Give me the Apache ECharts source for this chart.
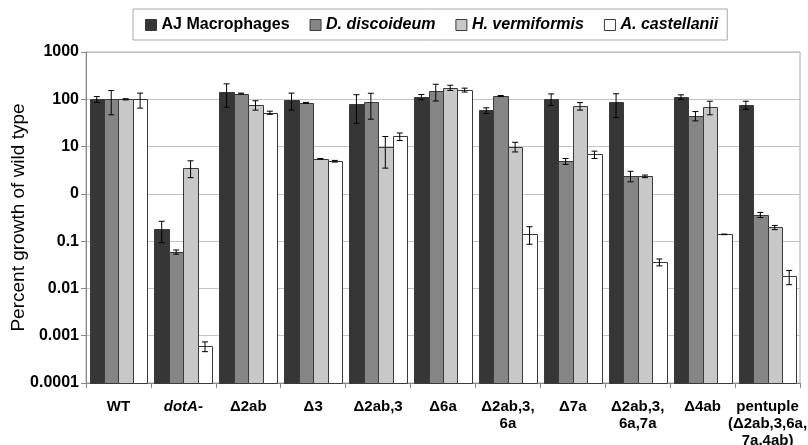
<!DOCTYPE html>
<html>
<head>
<meta charset="utf-8">
<script src="https://cdn.jsdelivr.net/npm/echarts@6/dist/echarts.min.js"></script>
<style>html,body{margin:0;padding:0;background:#fff}#c{width:808px;height:445px}</style>
</head>
<body>
<div id="c"></div>
<script>
const categories = ['WT', 'dotA-', 'Δ2ab', 'Δ3', 'Δ2ab,3', 'Δ6a', 'Δ2ab,3,\n6a', 'Δ7a', 'Δ2ab,3,\n6a,7a', 'Δ4ab', 'pentuple\n(Δ2ab,3,6a,\n7a,4ab)'];
const seriesNames = ['AJ Macrophages', 'D. discoideum', 'H. vermiformis', 'A. castellanii'];
const ajMacrophages = [100, 0.178, 140, 97, 78, 112, 58, 102, 86, 112, 76];
const ajMacrophagesErr = [14, 0.085, 72, 38, 47, 14, 8, 28, 45, 12, 15];
const dDiscoideum = [100, 0.059, 132, 84, 86, 150, 117, 4.9, 2.4, 45, 0.36];
const dDiscoideumErr = [53, 0.006, 3, 2, 48, 58, 3, 0.7, 0.6, 10, 0.045];
const hVermiformis = [100, 3.6, 76, 5.5, 9.9, 176, 10, 72, 2.35, 69, 0.195];
const hVermiformisErr = [3, 1.4, 17, 0.1, 6.4, 22, 2.3, 13, 0.15, 22, 0.02];
const aCastellanii = [100, 0.0006, 52, 4.9, 16.4, 157, 0.144, 6.8, 0.036, 0.139, 0.018];
const aCastellaniiErr = [35, 0.00014, 4, 0.2, 3, 15, 0.058, 1.2, 0.006, 0.002, 0.006];
const yTickLabels = ['0.0001', '0.001', '0.01', '0.1', '0', '10', '100', '1000'];
const yMin = 0.0001, yMax = 1000;

const values = [ajMacrophages, dDiscoideum, hVermiformis, aCastellanii];
const errors = [ajMacrophagesErr, dDiscoideumErr, hVermiformisErr, aCastellaniiErr];
const colors = ['#363636', '#858585', '#c8c8c8', '#ffffff'];
const catGap = 0.11;

const chart = echarts.init(document.getElementById('c'));
const font = 'Liberation Sans, Arial, sans-serif';

const series = values.map((vals, s) => ({
  name: seriesNames[s],
  type: 'custom',
  data: vals.map((v, i) => [i, v, errors[s][i]]),
  encode: { x: 0, y: 1 },
  itemStyle: { color: colors[s], borderColor: '#3a3a3a', borderWidth: 1 },
  silent: true,
  renderItem: function (params, api) {
    const cat = api.value(0), v = api.value(1), e = api.value(2);
    const bw = api.size([1, 0])[0];
    const barW = bw * (1 - catGap) / 4;
    const x0 = api.coord([cat, v])[0] - 2 * barW + s * barW;
    const cx = x0 + barW / 2;
    const yV = api.coord([cat, v])[1];
    const yB = api.coord([cat, yMin])[1];
    const yTop = api.coord([cat, v + e])[1];
    const yBot = api.coord([cat, Math.max(v - e, v * 0.05)])[1];
    const cap = 3;
    const es = { stroke: '#000', lineWidth: 1, fill: null };
    return {
      type: 'group',
      children: [
        { type: 'rect', shape: { x: Math.round(x0) + 0.5, y: Math.round(yV) + 0.5, width: Math.round(x0 + barW) - Math.round(x0), height: Math.round(yB) - Math.round(yV) },
          style: { fill: colors[s], stroke: '#3a3a3a', lineWidth: 1 } },
        { type: 'line', shape: { x1: cx, y1: yTop, x2: cx, y2: yBot }, style: es },
        { type: 'line', shape: { x1: cx - cap, y1: yTop, x2: cx + cap, y2: yTop }, style: es },
        { type: 'line', shape: { x1: cx - cap, y1: yBot, x2: cx + cap, y2: yBot }, style: es }
      ]
    };
  }
}));

chart.setOption({
  animation: false,
  backgroundColor: '#fff',
  textStyle: { fontFamily: font },
  legend: {
    data: seriesNames.map(n => ({ name: n, icon: 'rect' })),
    left: 133,
    top: 9,
    padding: [8, 9, 7, 12],
    itemGap: 20,
    itemWidth: 11,
    itemHeight: 11,
    borderColor: '#aaaaaa',
    borderWidth: 1,
    selectedMode: false,
    itemStyle: { borderColor: '#3a3a3a', borderWidth: 1 },
    formatter: function (n) { return n === 'AJ Macrophages' ? n : '{i|' + n + '}'; },
    textStyle: {
      fontFamily: font, fontSize: 16, fontWeight: 'bold', color: '#000',
      rich: { i: { fontFamily: font, fontSize: 16, fontWeight: 'bold', fontStyle: 'italic', color: '#000' } }
    }
  },
  grid: { left: 86, right: 8, top: 52, bottom: 62, show: true, borderColor: '#aaaaaa', borderWidth: 1, containLabel: false, outerBoundsMode: 'none' },
  xAxis: {
    type: 'category',
    data: categories,
    axisLine: { lineStyle: { color: '#888' } },
    axisTick: { show: true, length: 5, lineStyle: { color: '#888' } },
    axisLabel: {
      interval: 0, margin: 15, color: '#000', fontFamily: font, fontSize: 15, fontWeight: 'bold', lineHeight: 17,
      formatter: function (v) { return v === 'dotA-' ? '{i|dotA-}' : v; },
      rich: { i: { fontFamily: font, fontSize: 15, fontWeight: 'bold', fontStyle: 'italic', color: '#000' } }
    }
  },
  yAxis: {
    type: 'log',
    logBase: 10,
    min: yMin,
    max: yMax,
    splitNumber: 7,
    name: 'Percent growth of wild type',
    nameLocation: 'middle',
    nameGap: 58,
    nameMoveOverlap: false,
    nameTextStyle: { fontFamily: font, fontSize: 19, color: '#000' },
    axisLine: { show: true, lineStyle: { color: '#888' } },
    axisTick: { show: true, length: 5, lineStyle: { color: '#888' } },
    splitLine: { lineStyle: { color: '#c4c4c4' } },
    axisLabel: {
      color: '#000', fontFamily: font, fontSize: 16, fontWeight: 'bold', margin: 7,
      formatter: function (v) { return yTickLabels[Math.round(Math.log10(v)) + 4]; }
    }
  },
  series: series
});
</script>
</body>
</html>
